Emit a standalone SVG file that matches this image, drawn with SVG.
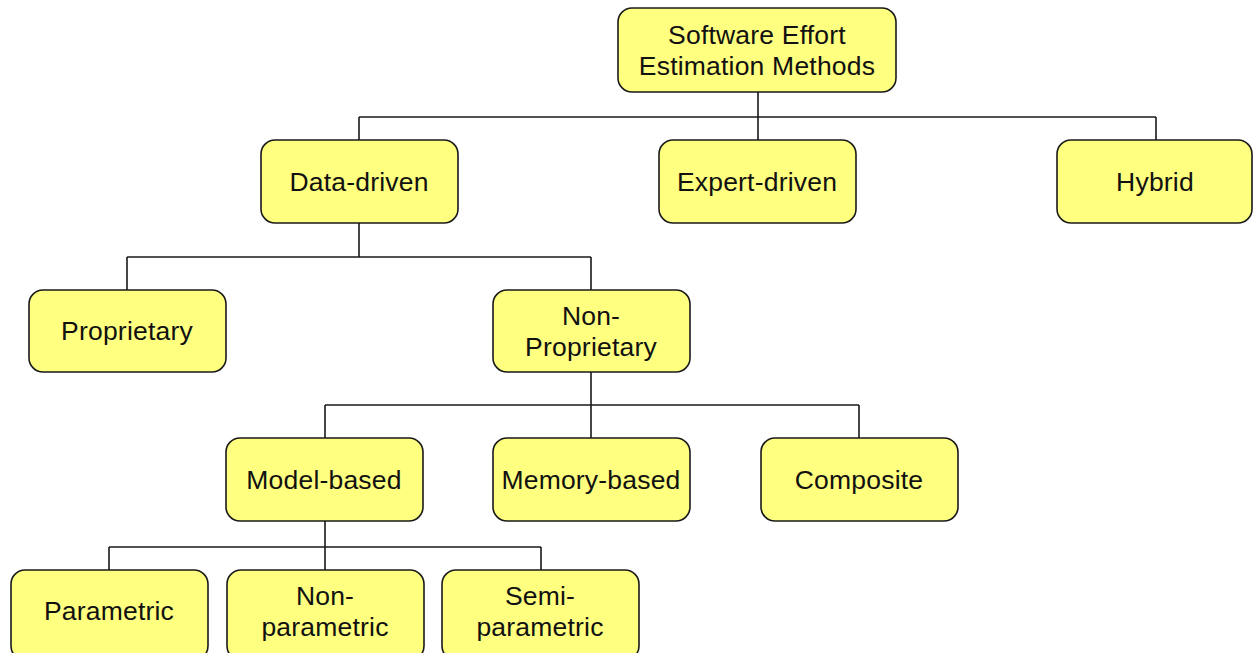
<svg xmlns="http://www.w3.org/2000/svg" width="1253" height="653" viewBox="0 0 1253 653">
  <style>
    .box { fill: #FFFF80; stroke: #1a1a1a; stroke-width: 1.6; }
    .lbl { font-family: "Liberation Sans", Arial, Helvetica, sans-serif; font-size: 26.5px; letter-spacing: 0.2px; fill: #111; text-anchor: middle; }
    .wire { fill: none; stroke: #1a1a1a; stroke-width: 1.6; }
  </style>
  <rect width="1253" height="653" fill="#ffffff"/>

  <!-- tree connectors -->
  <g id="connectors" class="wire">
    <path d="M758,92 V117 M359,117 H1156 M359,117 V140 M758,117 V140 M1156,117 V140"/>
    <path d="M359,223 V257 M127,257 H591 M127,257 V290 M591,257 V290"/>
    <path d="M591,372 V405 M325,405 H859 M325,405 V438 M591,405 V438 M859,405 V438"/>
    <path d="M325,521 V547 M109,547 H541 M109,547 V570 M325,547 V570 M541,547 V570"/>
  </g>

  <g id="root">
    <rect class="box" x="618" y="8" width="278" height="84" rx="14"/>
    <text class="lbl" x="757" y="44">Software Effort</text>
    <text class="lbl" x="757" y="75">Estimation Methods</text>
  </g>

  <g id="data-driven">
    <rect class="box" x="261" y="140" width="197" height="83" rx="14"/>
    <text class="lbl" x="359" y="191">Data-driven</text>
  </g>
  <g id="expert-driven">
    <rect class="box" x="659" y="140" width="197" height="83" rx="14"/>
    <text class="lbl" x="757" y="191">Expert-driven</text>
  </g>
  <g id="hybrid">
    <rect class="box" x="1057" y="140" width="195" height="83" rx="14"/>
    <text class="lbl" x="1155" y="191">Hybrid</text>
  </g>

  <g id="proprietary">
    <rect class="box" x="29" y="290" width="197" height="82" rx="14"/>
    <text class="lbl" x="127" y="340">Proprietary</text>
  </g>
  <g id="non-proprietary">
    <rect class="box" x="493" y="290" width="197" height="82" rx="14"/>
    <text class="lbl" x="591" y="325">Non-</text>
    <text class="lbl" x="591" y="356">Proprietary</text>
  </g>

  <g id="model-based">
    <rect class="box" x="226" y="438" width="197" height="83" rx="14"/>
    <text class="lbl" x="324" y="489">Model-based</text>
  </g>
  <g id="memory-based">
    <rect class="box" x="493" y="438" width="197" height="83" rx="14"/>
    <text class="lbl" x="591" y="489">Memory-based</text>
  </g>
  <g id="composite">
    <rect class="box" x="761" y="438" width="197" height="83" rx="14"/>
    <text class="lbl" x="859" y="489">Composite</text>
  </g>

  <g id="parametric">
    <rect class="box" x="11" y="570" width="197" height="90" rx="14"/>
    <text class="lbl" x="109" y="620">Parametric</text>
  </g>
  <g id="non-parametric">
    <rect class="box" x="227" y="570" width="197" height="90" rx="14"/>
    <text class="lbl" x="325" y="605">Non-</text>
    <text class="lbl" x="325" y="636">parametric</text>
  </g>
  <g id="semi-parametric">
    <rect class="box" x="442" y="570" width="197" height="90" rx="14"/>
    <text class="lbl" x="540" y="605">Semi-</text>
    <text class="lbl" x="540" y="636">parametric</text>
  </g>
</svg>
